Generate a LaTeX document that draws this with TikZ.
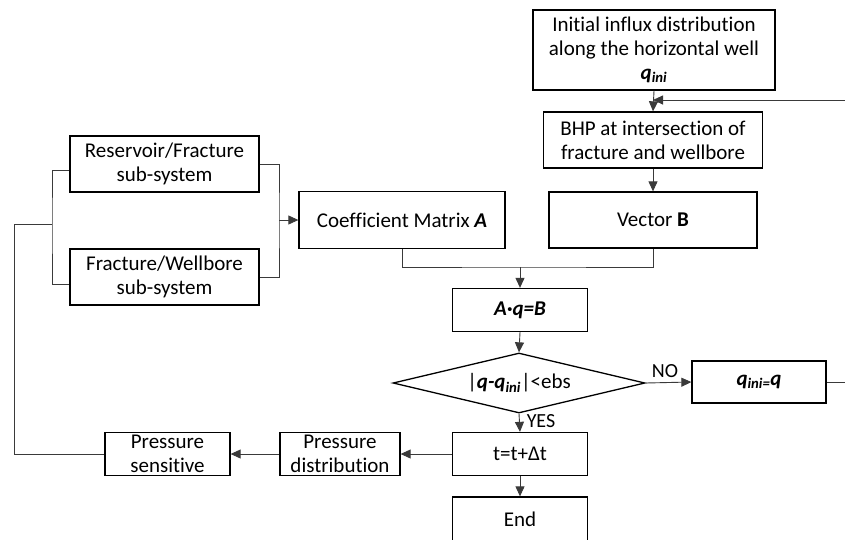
\documentclass[tikz,border=0pt]{standalone}
\usepackage{fontspec}
\setmainfont{Carlito}[Ligatures={NoCommon}]
\usetikzlibrary{shapes.geometric,arrows.meta}
\definecolor{conn}{HTML}{3A3A3A}
\tikzset{
  box/.style={draw=black, line width=1.3pt, fill=white, align=center, inner sep=2pt},
  conline/.style={draw=conn, line width=0.9pt},
  arr/.style={conline, -{Triangle[length=10pt,width=9pt]}},
  lbl/.style={font=\fontsize{20}{22}\selectfont, inner sep=1pt}
}
\begin{document}
\begin{tikzpicture}[x=1pt, y=-1pt, font=\fontsize{21}{24}\selectfont]
\useasboundingbox[fill=white] (0,0) rectangle (845,539);
% nodes
\node[box, minimum width=242pt, minimum height=80pt] (init) at (654,50)
  {Initial influx distribution\\along the horizontal well\\\textbf{\textit{q\textsubscript{ini}}}};
\node[box, minimum width=219pt, minimum height=56pt] (bhp) at (653,140)
  {BHP at intersection of\\fracture and wellbore};
\node[box, minimum width=208pt, minimum height=56pt] (vecB) at (653,220) {Vector \textbf{B}};
\node[box, minimum width=206pt, minimum height=57pt] (coefA) at (402,220) {Coefficient Matrix \textbf{\textit{A}}};
\node[box, minimum width=189pt, minimum height=56pt] (rf) at (164.5,164) {Reservoir/Fracture\\sub-system};
\node[box, minimum width=189pt, minimum height=56pt] (fw) at (164.5,277) {Fracture/Wellbore\\sub-system};
\node[box, minimum width=135pt, minimum height=43pt] (aqb) at (520,310) {\textbf{\textit{A·q=B}}};
\node[draw=black, line width=1.3pt, fill=white, diamond, aspect=4.2, inner sep=0pt,
      minimum width=252pt, minimum height=60pt] (dia) at (519,383)
  {|\textbf{\textit{q-q\textsubscript{ini}}}|<ebs};
\node[box, minimum width=134pt, minimum height=42pt] (qbox) at (759,382) {\textbf{\textit{q\textsubscript{ini=}q}}};
\node[box, minimum width=135pt, minimum height=43pt] (tbox) at (520,454) {t=t+Δt};
\node[box, minimum width=135pt, minimum height=44pt] (endb) at (520,519) {End};
\node[box, minimum width=120pt, minimum height=43pt] (pd) at (340,454) {Pressure\\distribution};
\node[box, minimum width=125pt, minimum height=43pt] (ps) at (167.5,454) {Pressure\\sensitive};
% coordinates
\coordinate (rc) at (850,382);
\coordinate (fb) at (653,100);
\coordinate (jn) at (520,267);
\coordinate (rb) at (279,220);
\coordinate (lb) at (52,224);
\coordinate (lc) at (14,454);
% connectors
\draw[arr] (init.south) -- (bhp.north);
\draw[arr] (qbox.east) -- (rc) |- (fb);
\draw[arr] (bhp.south) -- (vecB.north);
\draw[conline] (coefA.south) |- (jn) -| (vecB.south);
\draw[arr] (jn) -- (aqb.north);
\draw[arr] (aqb.south) -- (dia.north);
\draw[arr] (dia.east) -- (qbox.west);
\node[lbl] (nolbl) at (665,371) {NO};
\draw[arr] (dia.south) -- (tbox.north);
\node[lbl] (yeslbl) at (541,421) {YES};
\draw[arr] (tbox.south) -- (endb.north);
\draw[arr] (tbox.west) -- (pd.east);
\draw[arr] (pd.west) -- (ps.east);
\draw[conline] (ps.west) -- (lc) |- (lb);
\draw[conline] ([yshift=-6pt]rf.west) -| (lb) |- ([yshift=-7pt]fw.west);
\draw[conline] (rf.east) -| (rb) |- (fw.east);
\draw[arr] (rb) -- (coefA.west);
\end{tikzpicture}
\end{document}
